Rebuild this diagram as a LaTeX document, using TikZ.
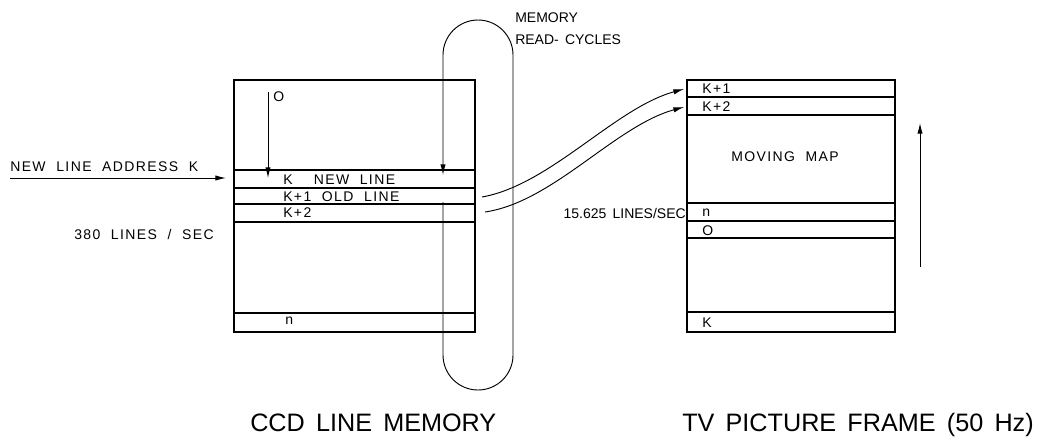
\documentclass[tikz,border=0pt]{standalone}
\usepackage{fontspec}
\setmainfont{Liberation Sans}
\newfontfamily\lettering[LetterSpace=10,WordSpace=2]{Liberation Sans}
\newfontfamily\plainletter[WordSpace=1.6]{Liberation Sans}
\usetikzlibrary{arrows.meta}

\begin{document}
\begin{tikzpicture}[x=0.75pt,y=-0.75pt,
    frame/.style={line width=1.4pt},
    rowline/.style={line width=0.9pt},
    loopline/.style={line width=0.7pt},
    feed/.style={line width=0.7pt,-{Latex[length=8pt,width=4pt]}},
    lbl/.style={font=\lettering\fontsize{10.5}{12}\selectfont,inner sep=0pt,anchor=west},
    plainlbl/.style={font=\plainletter\fontsize{10.5}{12}\selectfont,inner sep=0pt,anchor=west},
    caption/.style={font=\plainletter\fontsize{18.9}{22}\selectfont,inner sep=0pt,anchor=west}]
    \useasboundingbox (0,0) rectangle (1042,440);

    % CCD line memory
    \coordinate (ccdNW) at (234,80);
    \coordinate (ccdSE) at (475,332);
    \draw[frame] (ccdNW) rectangle (ccdSE);
    \foreach \y in {170,188,204,222,313} {
        \draw[rowline] (ccdNW |- 0,\y) -- (ccdSE |- 0,\y);
    }
    \node[lbl] (ccdzero) at (273,97) {O};
    \node[lbl] (ccdnew) at (283,180) {K~~NEW LINE};
    \node[lbl] (ccdold) at (283,197) {K+1 OLD LINE};
    \node[lbl] (ccdnext) at (283,213) {K+2};
    \node[lbl] (ccdlast) at (285,321) {n};

    \coordinate (writetop) at (268,92);
    \coordinate (writetip) at (268,178);
    \draw[feed] (writetop) -- (writetip);

    \node[lbl] (address) at (10,167) {NEW LINE ADDRESS K};
    \coordinate (addresstip) at (226,178);
    \draw[feed] (address.west |- addresstip) -- (addresstip);
    \node[lbl] (ccdrate) at (74,234) {380 LINES / SEC};

    % read-cycle loop
    \draw[loopline,-{Latex[length=8pt,width=4pt]}] (443,202) -- (443,355)
        arc[start angle=180,end angle=0,radius=35] -- (513,55)
        arc[start angle=0,end angle=-180,radius=35] -- (443,175);
    \node[plainlbl] (cyclesA) at (515,18) {MEMORY};
    \node[plainlbl] (cyclesB) at (515,40) {READ- CYCLES};

    % TV picture frame
    \coordinate (tvNW) at (687,80);
    \coordinate (tvSE) at (895,332);
    \draw[frame] (tvNW) rectangle (tvSE);
    \foreach \y in {97,115,203,221,238,312} {
        \draw[rowline] (tvNW |- 0,\y) -- (tvSE |- 0,\y);
    }
    \node[lbl] (tvfirst) at (702,89) {K+1};
    \node[lbl] (tvsecond) at (702,107) {K+2};
    \node[lbl,anchor=center] (tvmap) at (785,157) {MOVING MAP};
    \node[lbl] (tvn) at (702,213) {n};
    \node[lbl] (tvzero) at (702,231) {O};
    \node[lbl] (tvk) at (702,323) {K};
    \node[plainlbl,anchor=east] (tvrate) at (686,213) {15.625 LINES/SEC};

    \coordinate (readA) at (482,197);
    \coordinate (readB) at (485,212);
    \coordinate (tvinA) at (684,89);
    \coordinate (tvinB) at (684,107);
    \draw[feed] (readA) .. controls (550,185) and (615,108) .. (tvinA);
    \draw[feed] (readB) .. controls (553,202) and (615,126) .. (tvinB);

    \coordinate (scrollbase) at (920,267);
    \coordinate (scrolltip) at (920,123);
    \draw[feed] (scrollbase) -- (scrolltip);

    \node[caption] (ccdname) at (250,423) {CCD LINE MEMORY};
    \node[caption] (tvname) at (682,425) {TV PICTURE FRAME (50 Hz)};
\end{tikzpicture}
\end{document}
